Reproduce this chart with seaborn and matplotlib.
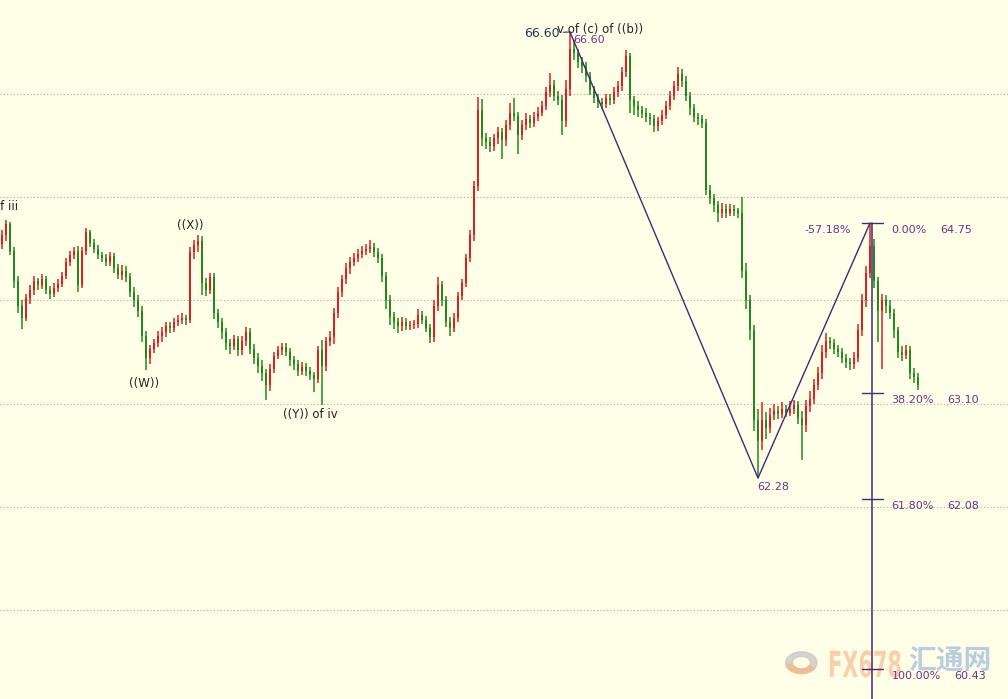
import numpy as np
import pandas as pd
import matplotlib
matplotlib.use("Agg")
import matplotlib.pyplot as plt
import seaborn as sns
from matplotlib.patches import Wedge, PathPatch
from matplotlib.textpath import TextPath
from matplotlib.font_manager import FontProperties
from matplotlib.transforms import Affine2D

# ---------------- data ----------------
first_open = 64.55
closes = [
    64.63, 64.74, 64.48, 64.19, 63.95, 63.83, 64.02, 64.10, 64.19, 64.15,
    64.21, 64.10, 64.06, 64.12, 64.16, 64.24, 64.37, 64.44, 64.48, 64.15,
    64.48, 64.66, 64.56, 64.50, 64.44, 64.41, 64.37, 64.43, 64.31, 64.25,
    64.29, 64.23, 64.08, 64.00, 63.90, 63.66, 63.44, 63.53, 63.59, 63.66,
    63.69, 63.75, 63.73, 63.79, 63.81, 63.83, 63.81, 64.47, 64.54, 64.58,
    64.17, 64.10, 64.23, 63.88, 63.79, 63.69, 63.59, 63.56, 63.63, 63.52,
    63.61, 63.69, 63.53, 63.44, 63.37, 63.30, 63.18, 63.34, 63.46, 63.52,
    63.55, 63.50, 63.42, 63.38, 63.32, 63.36, 63.32, 63.28, 63.24, 63.52,
    63.37, 63.61, 63.65, 63.88, 64.08, 64.21, 64.31, 64.37, 64.41, 64.45,
    64.48, 64.50, 64.52, 64.47, 64.41, 64.24, 64.00, 63.84, 63.79, 63.75,
    63.79, 63.75, 63.76, 63.77, 63.86, 63.81, 63.73, 63.65, 63.95, 64.15,
    64.00, 63.79, 63.73, 63.83, 64.04, 64.17, 64.41, 64.63, 65.11, 65.84,
    65.57, 65.53, 65.50, 65.57, 65.63, 65.55, 65.70, 65.82, 65.79, 65.60,
    65.70, 65.76, 65.72, 65.78, 65.82, 65.88, 66.02, 66.09, 65.98, 65.94,
    65.74, 66.05, 66.44, 66.40, 66.31, 66.27, 66.17, 66.04, 65.96, 65.92,
    65.90, 65.96, 65.94, 66.02, 66.08, 66.21, 66.37, 65.94, 65.88, 65.84,
    65.82, 65.78, 65.76, 65.69, 65.74, 65.80, 65.88, 65.98, 66.08, 66.19,
    66.13, 65.98, 65.86, 65.78, 65.76, 65.72, 65.07, 64.99, 64.92, 64.85,
    64.89, 64.85, 64.89, 64.87, 64.85, 64.29, 64.00, 63.71, 62.84, 62.64,
    62.84, 62.76, 62.89, 62.93, 62.90, 62.95, 62.91, 62.95, 62.99, 62.86,
    62.79, 62.98, 63.05, 63.18, 63.30, 63.50, 63.61, 63.59, 63.53, 63.50,
    63.44, 63.40, 63.38, 63.44, 63.71, 64.00, 64.27, 64.53, 64.19, 63.90,
    64.00, 63.95, 63.88, 63.71, 63.50, 63.47, 63.52, 63.30, 63.26, 63.18,
]
highs = [
    64.68, 64.78, 64.76, 64.52, 64.24, 64.00, 64.06, 64.15, 64.24, 64.22,
    64.26, 64.24, 64.14, 64.17, 64.21, 64.28, 64.41, 64.48, 64.52, 64.53,
    64.52, 64.70, 64.68, 64.60, 64.54, 64.47, 64.45, 64.47, 64.46, 64.35,
    64.34, 64.33, 64.27, 64.13, 64.05, 63.95, 63.70, 63.57, 63.63, 63.70,
    63.74, 63.79, 63.79, 63.83, 63.86, 63.88, 63.86, 64.52, 64.59, 64.63,
    64.62, 64.22, 64.27, 64.27, 63.92, 63.83, 63.73, 63.63, 63.67, 63.66,
    63.66, 63.74, 63.73, 63.58, 63.49, 63.42, 63.34, 63.38, 63.50, 63.56,
    63.59, 63.59, 63.54, 63.46, 63.42, 63.40, 63.39, 63.36, 63.31, 63.56,
    63.62, 63.65, 63.70, 63.93, 64.13, 64.25, 64.36, 64.42, 64.46, 64.50,
    64.53, 64.55, 64.59, 64.56, 64.51, 64.45, 64.28, 64.05, 63.89, 63.83,
    63.84, 63.83, 63.80, 63.81, 63.92, 63.90, 63.85, 63.77, 64.00, 64.23,
    64.19, 64.04, 63.84, 63.88, 64.08, 64.21, 64.45, 64.68, 65.16, 65.97,
    65.95, 65.62, 65.58, 65.61, 65.68, 65.67, 65.75, 65.91, 65.96, 65.83,
    65.75, 65.82, 65.80, 65.83, 65.87, 65.93, 66.07, 66.20, 66.14, 66.03,
    65.99, 66.14, 66.60, 66.52, 66.44, 66.36, 66.31, 66.21, 66.08, 66.00,
    65.96, 66.00, 66.00, 66.07, 66.13, 66.26, 66.43, 66.40, 65.98, 65.93,
    65.88, 65.86, 65.82, 65.80, 65.78, 65.84, 65.93, 66.03, 66.13, 66.26,
    66.24, 66.17, 66.02, 65.90, 65.82, 65.80, 65.76, 65.12, 65.03, 64.96,
    64.94, 64.93, 64.93, 64.92, 64.90, 65.00, 64.36, 64.05, 63.76, 62.95,
    63.02, 62.92, 62.96, 63.00, 62.98, 63.02, 62.99, 63.03, 63.04, 63.03,
    62.93, 63.04, 63.12, 63.24, 63.36, 63.57, 63.68, 63.65, 63.63, 63.57,
    63.54, 63.48, 63.44, 63.50, 63.77, 64.06, 64.33, 64.75, 64.60, 64.23,
    64.06, 64.05, 64.00, 63.92, 63.74, 63.56, 63.57, 63.56, 63.35, 63.30,
]
lows = [
    64.50, 64.58, 64.44, 64.12, 63.88, 63.72, 63.80, 63.97, 64.05, 64.10,
    64.11, 64.06, 64.01, 64.03, 64.08, 64.13, 64.21, 64.33, 64.40, 64.08,
    64.12, 64.44, 64.52, 64.46, 64.40, 64.37, 64.33, 64.33, 64.27, 64.21,
    64.20, 64.18, 64.03, 63.94, 63.84, 63.60, 63.33, 63.38, 63.49, 63.55,
    63.60, 63.65, 63.68, 63.69, 63.75, 63.77, 63.76, 63.78, 64.40, 64.47,
    64.05, 64.04, 64.06, 63.82, 63.73, 63.63, 63.52, 63.48, 63.52, 63.46,
    63.47, 63.56, 63.48, 63.38, 63.30, 63.22, 63.04, 63.12, 63.30, 63.43,
    63.47, 63.46, 63.37, 63.33, 63.27, 63.28, 63.27, 63.23, 63.11, 63.20,
    62.99, 63.32, 63.56, 63.58, 63.83, 64.03, 64.16, 64.26, 64.33, 64.37,
    64.41, 64.44, 64.46, 64.42, 64.36, 64.18, 63.92, 63.76, 63.72, 63.68,
    63.70, 63.71, 63.71, 63.72, 63.73, 63.77, 63.69, 63.59, 63.60, 63.90,
    63.95, 63.74, 63.66, 63.69, 63.79, 64.00, 64.13, 64.37, 64.58, 65.06,
    65.50, 65.47, 65.44, 65.45, 65.52, 65.37, 65.50, 65.65, 65.74, 65.42,
    65.55, 65.65, 65.67, 65.68, 65.74, 65.79, 65.84, 65.97, 65.93, 65.89,
    65.60, 65.68, 65.98, 66.33, 66.25, 66.20, 66.12, 65.99, 65.91, 65.86,
    65.85, 65.86, 65.89, 65.90, 65.97, 66.03, 66.16, 65.82, 65.80, 65.78,
    65.77, 65.73, 65.70, 65.63, 65.64, 65.70, 65.76, 65.84, 65.94, 66.03,
    66.07, 65.93, 65.80, 65.73, 65.70, 65.67, 65.02, 64.93, 64.86, 64.76,
    64.80, 64.80, 64.82, 64.82, 64.80, 64.22, 63.92, 63.62, 62.74, 62.28,
    62.55, 62.66, 62.72, 62.84, 62.85, 62.86, 62.87, 62.88, 62.90, 62.80,
    62.45, 62.73, 62.92, 63.00, 63.13, 63.24, 63.44, 63.53, 63.48, 63.45,
    63.39, 63.35, 63.33, 63.34, 63.40, 63.66, 63.94, 64.22, 64.12, 63.60,
    63.34, 63.88, 63.82, 63.64, 63.44, 63.41, 63.43, 63.24, 63.20, 63.13,
]

grid_levels = [61, 62, 63, 64, 65, 66]
fib_top = 64.75
fib_bottom = 60.43
fib_ratios = [0.0, 0.382, 0.618, 1.0]
fib_pct_labels = ["0.00%", "38.20%", "61.80%", "100.00%"]
fib_price_labels = ["64.75", "63.10", "62.08", "60.43"]
ext_label = "-57.18%"
peak_label = "66.60"
low_label = "62.28"

# ---------------- styling ----------------
BG = "#FFFFE8"
UP = "#DC1F1F"
DOWN = "#23861F"
PURPLE_TXT = "#70308A"
PURPLE_LN = "#3E2A76"

sns.set_theme(style="white", rc={"axes.facecolor": BG, "figure.facecolor": BG})
plt.rcParams["font.family"] = ["DejaVu Sans", "Noto Sans CJK SC"]

W, H = 1008, 699
fig = plt.figure(figsize=(W / 100, H / 100), dpi=100)
ax = fig.add_axes([0, 0, 1, 1])
ax.set_facecolor(BG)

n = len(closes)
opens = [first_open] + closes[:-1]
df = pd.DataFrame({"idx": np.arange(n), "open": opens, "close": closes,
                   "high": highs, "low": lows})
df["up"] = df["close"] >= df["open"]
df["color"] = np.where(df["up"], UP, DOWN)

# grid
for g in grid_levels:
    ax.axhline(g, color="#A9A9A0", lw=0.8, ls=(0, (1, 2)), zorder=0)

# candles
ax.vlines(df["idx"], df["low"], df["high"], colors=df["color"], lw=1.1, zorder=2)
body_bottom = np.minimum(df["open"], df["close"])
body_h = np.maximum(np.abs(df["close"] - df["open"]), 0.012)
ax.bar(df["idx"], body_h, bottom=body_bottom, width=0.7, color=df["color"],
       linewidth=0, zorder=3)

# zigzag from data extremes
i_peak = int(np.argmax(highs))
i_low = i_peak + int(np.argmin(lows[i_peak:]))
i_top2 = i_low + int(np.argmax(highs[i_low:]))
zz = pd.DataFrame({"x": [i_peak, i_low, i_top2],
                   "y": [highs[i_peak], lows[i_low], highs[i_top2]]})
sns.lineplot(data=zz, x="x", y="y", ax=ax, color=PURPLE_LN, lw=1.0, sort=False,
             zorder=4)

ymin, ymax = 60.14, 66.91
# fib vertical + ticks
fx = i_top2 + 0.6
ax.plot([fx, fx], [fib_top, ymin - 1], color=PURPLE_LN, lw=1.1, zorder=4)
for r, pl, vl in zip(fib_ratios, fib_pct_labels, fib_price_labels):
    lev = fib_top - r * (fib_top - fib_bottom)
    ax.plot([fx - 2.6, fx + 2.6], [lev, lev], color=PURPLE_LN, lw=1.0, zorder=4)
    ax.annotate(pl, xy=(fx, lev), xytext=(19, -7), textcoords="offset pixels",
                ha="left", va="center", fontsize=8, color=PURPLE_TXT, zorder=6)
    ax.annotate(vl, xy=(fx, lev), xytext=(68 + (len(pl) - 5) * 7, -7),
                textcoords="offset pixels",
                ha="left", va="center", fontsize=8, color=PURPLE_TXT, zorder=6)
ax.annotate(ext_label, xy=(fx, fib_top), xytext=(-21, -7), textcoords="offset pixels",
            ha="right", va="center", fontsize=8, color=PURPLE_TXT)

# peak / low labels
ax.annotate(peak_label, xy=(i_peak, highs[i_peak]), xytext=(3, -8),
            textcoords="offset pixels", ha="left", va="center", fontsize=8,
            color=PURPLE_TXT)
ax.annotate(peak_label, xy=(i_peak, highs[i_peak]), xytext=(-10, -1),
            textcoords="offset pixels", ha="right", va="center", fontsize=9,
            color="#1D3A5C",
            arrowprops=dict(arrowstyle="-", color="#1D3A5C", lw=0.8,
                            shrinkA=0, shrinkB=0))
ax.annotate("v of (c) of ((b))", xy=(i_peak, highs[i_peak]), xytext=(-13, 3),
            textcoords="offset pixels", ha="left", va="center", fontsize=8.5,
            color="#222222")
ax.annotate(low_label, xy=(i_low, lows[i_low]), xytext=(-1, -9),
            textcoords="offset pixels", ha="left", va="center", fontsize=8,
            color=PURPLE_TXT)

# wave labels
ax.annotate("of iii", xy=(1, highs[1]), xytext=(12, 13), textcoords="offset pixels",
            ha="right", va="center", fontsize=8.5, color="#222222")
ax.annotate("((X))", xy=(49, highs[49]), xytext=(-8, 10), textcoords="offset pixels",
            ha="center", va="center", fontsize=8.5, color="#222222")
ax.annotate("((W))", xy=(36, lows[36]), xytext=(-2, -14), textcoords="offset pixels",
            ha="center", va="center", fontsize=8.5, color="#222222")
ax.annotate("((Y)) of iv", xy=(80, lows[80]), xytext=(-12, -10),
            textcoords="offset pixels", ha="center", va="center", fontsize=8.5,
            color="#222222")

# watermark (pixel-space, condensed lettering)
ax.add_patch(Wedge((0.795, 0.052), 0.0155, 0, 360, width=0.0065,
                   transform=ax.transAxes, color="#C4C4C4", alpha=0.7, zorder=1))
ax.add_patch(Wedge((0.795, 0.052), 0.0155, 190, 330, width=0.0065,
                   transform=ax.transAxes, color="#F4B98E", alpha=0.85, zorder=1))
fp_b = FontProperties(family="DejaVu Sans", weight="bold")
tp = TextPath((0, 0), "FX678", size=36, prop=fp_b)
tr = Affine2D().scale(0.58, 1.0).translate(828, H - 677)
ax.add_patch(PathPatch(tp, transform=tr, color="#F7C49A", alpha=0.8, lw=0,
                       zorder=1))
ax.text(0.901, 0.054, "汇通网", transform=ax.transAxes, fontsize=20,
        fontweight="bold", family="Noto Sans CJK SC", color="#A7C2DF",
        alpha=0.8, ha="left", va="center", zorder=1)

ax.set_xlim(-0.5, 251.5)
ax.set_ylim(ymin, ymax)
ax.set_xticks([])
ax.set_yticks([])
ax.set_xlabel("")
ax.set_ylabel("")
for s in ax.spines.values():
    s.set_visible(False)

fig.savefig("out.png", dpi=100, facecolor=BG)
